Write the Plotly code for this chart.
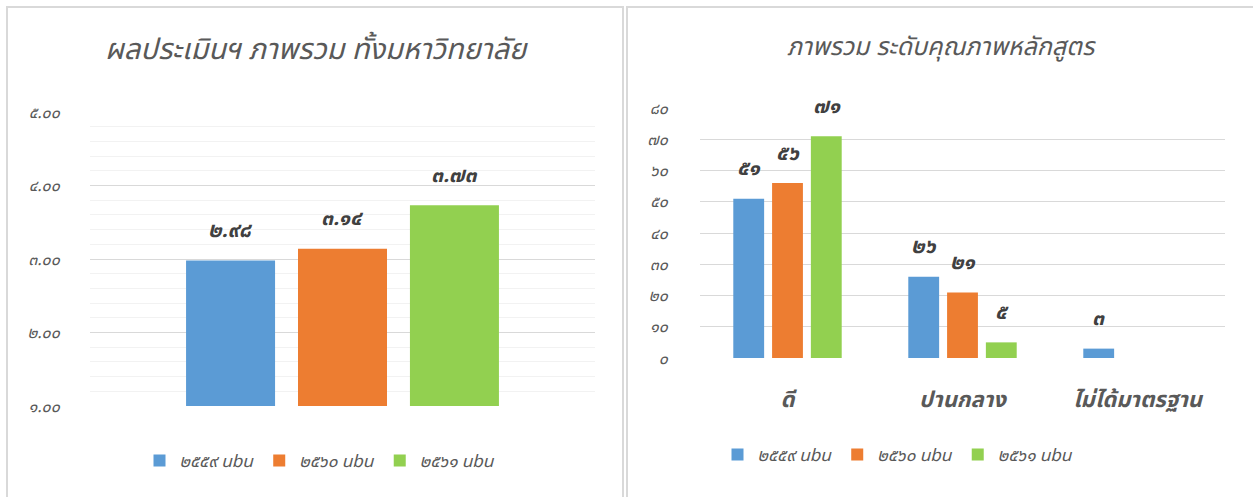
import plotly.graph_objects as go

# data
years = ["๒๕๕๙ ubu", "๒๕๖๐ ubu", "๒๕๖๑ ubu"]
colors = ["#5b9bd5", "#ed7d31", "#92d050"]

overall_scores = [2.98, 3.14, 3.73]
overall_labels = ["๒.๙๘", "๓.๑๔", "๓.๗๓"]

levels = ["ดี", "ปานกลาง", "ไม่ได้มาตรฐาน"]
level_counts = [
    [51, 26, 3],
    [56, 21, None],
    [71, 5, None],
]
level_labels = [
    ["๕๑", "๒๖", "๓"],
    ["๕๖", "๒๑", ""],
    ["๗๑", "๕", ""],
]

left_ticks = [1, 2, 3, 4, 5]
left_ticktext = ["๑.๐๐", "๒.๐๐", "๓.๐๐", "๔.๐๐", "๕.๐๐"]
right_ticks = [0, 10, 20, 30, 40, 50, 60, 70, 80]
right_ticktext = ["๐", "๑๐", "๒๐", "๓๐", "๔๐", "๕๐", "๖๐", "๗๐", "๘๐"]

FONT = "Tahoma, 'Noto Sans Thai', 'DejaVu Sans', sans-serif"
GREY = "#595959"
DARK = "#404040"
LBL = dict(family=FONT, size=21, color=DARK, weight="bold", style="italic")

W, H = 1253, 497
LEFT_STEP = 112   # px between bar centres in the left group
RIGHT_STEP = 39   # px between bar centres in the right groups

fig = go.Figure()
labels = []

# left panel: overall score (one unlabelled category at position 0)
for i in range(3):
    fig.add_trace(go.Bar(
        x=[0], y=[overall_scores[i]],
        name=years[i], marker=dict(color=colors[i], line=dict(width=0)),
        xaxis="x", yaxis="y", legend="legend",
    ))
    labels.append(dict(x=0, y=overall_scores[i], text=overall_labels[i],
                       xref="x", yref="y", xshift=(i - 1) * LEFT_STEP, yshift=30))

# right panel: curriculum quality levels
for i in range(3):
    fig.add_trace(go.Bar(
        x=levels, y=level_counts[i],
        name=years[i], marker=dict(color=colors[i], line=dict(width=0)),
        xaxis="x2", yaxis="y2", legend="legend2",
    ))
    for lv, v, t in zip(levels, level_counts[i], level_labels[i]):
        if v is not None:
            labels.append(dict(x=lv, y=v, text=t, xref="x2", yref="y2",
                               xshift=(i - 1) * RIGHT_STEP, yshift=30))

for a in labels:
    a.update(showarrow=False, xanchor="center", yanchor="middle", font=LBL)

fig.update_layout(
    width=W, height=H,
    margin=dict(l=0, r=0, t=0, b=0, autoexpand=False),
    paper_bgcolor="white", plot_bgcolor="white",
    font=dict(family=FONT, color=GREY),
    barmode="group", bargap=0.335, bargroupgap=0.205,
    showlegend=True,
    xaxis=dict(domain=[90 / W, 595 / W], anchor="y", type="linear", range=[-0.5, 0.5],
               showticklabels=False, showgrid=False, zeroline=False, showline=False,
               automargin=False),
    yaxis=dict(domain=[(H - 406) / H, (H - 112) / H], anchor="x", range=[1, 5],
               tickvals=left_ticks, ticktext=left_ticktext, showline=False,
               gridcolor="#d9d9d9", gridwidth=1, zeroline=False, automargin=False,
               minor=dict(dtick=0.2, showgrid=True, gridcolor="#f2f2f2", gridwidth=1),
               tickfont=dict(size=16, style="italic", color=GREY), ticks="outside",
               ticklen=26, tickcolor="rgba(0,0,0,0)"),
    xaxis2=dict(domain=[700 / W, 1225 / W], anchor="y2", showgrid=False, zeroline=False,
                showline=False, ticks="outside", ticklen=22, tickcolor="rgba(0,0,0,0)",
                automargin=False,
                tickfont=dict(size=22, weight="bold", style="italic", color=GREY)),
    yaxis2=dict(domain=[(H - 358) / H, (H - 108) / H], anchor="x2", range=[0, 80],
                tickvals=right_ticks, ticktext=right_ticktext, showline=False,
                gridcolor="#d9d9d9", gridwidth=1, zeroline=False, automargin=False,
                tickfont=dict(size=16, style="italic", color=GREY), ticks="outside",
                ticklen=28, tickcolor="rgba(0,0,0,0)"),
    legend=dict(orientation="h", x=320 / W, y=(H - 461) / H, xanchor="center", yanchor="middle",
                font=dict(size=17, style="italic", color=GREY), itemclick=False),
    legend2=dict(orientation="h", x=898 / W, y=(H - 455) / H, xanchor="center", yanchor="middle",
                 font=dict(size=17, style="italic", color=GREY), itemclick=False),
    annotations=labels + [
        dict(text="ผลประเมินฯ ภาพรวม ทั้งมหาวิทยาลัย", x=316 / W, y=(H - 50) / H,
             xref="paper", yref="paper", showarrow=False, xanchor="center", yanchor="middle",
             font=dict(size=29, style="italic", color=GREY)),
        dict(text="ภาพรวม ระดับคุณภาพหลักสูตร", x=941 / W, y=(H - 47) / H,
             xref="paper", yref="paper", showarrow=False, xanchor="center", yanchor="middle",
             font=dict(size=25, style="italic", color=GREY)),
    ],
    shapes=[
        dict(type="rect", xref="paper", yref="paper", x0=7 / W, x1=623 / W, y0=-0.05, y1=(H - 7) / H,
             line=dict(color="#d9d9d9", width=2), fillcolor="rgba(0,0,0,0)", layer="below"),
        dict(type="rect", xref="paper", yref="paper", x0=627 / W, x1=1.05, y0=-0.05, y1=(H - 7) / H,
             line=dict(color="#d9d9d9", width=2), fillcolor="rgba(0,0,0,0)", layer="below"),
    ],
)

# drop the page's default body margin so the figure sits at the top-left corner
fig.write_html("out.html", config={"displayModeBar": False},
               post_script="document.body.style.margin='0';")
